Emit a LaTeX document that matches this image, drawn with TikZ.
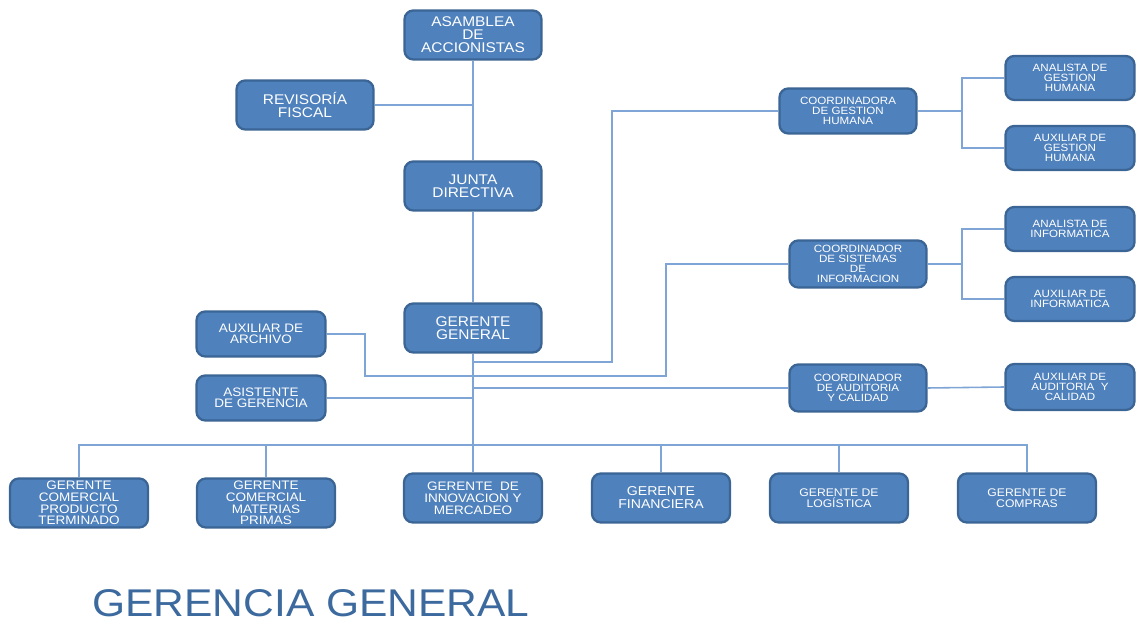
\documentclass[tikz,border=0pt]{standalone}
\usepackage{fontspec}
\setmainfont[FakeStretch=1.1]{Liberation Sans}
\usetikzlibrary{calc}
\definecolor{boxfill}{HTML}{4F81BD}
\definecolor{boxedge}{HTML}{3A6594}
\definecolor{linkblue}{HTML}{7FA5D6}
\definecolor{titleblue}{HTML}{3C6A9E}
\tikzset{
  orgbox/.style 2 args={draw=boxedge, line width=1.3pt, fill=boxfill,
    rounded corners=5pt, text=white, align=center, inner sep=1pt,
    minimum width=#1, minimum height=#2},
  big/.style={orgbox={2.74cm}{0.98cm}, font=\fontsize{8}{7.4}\selectfont},
  mid/.style={orgbox={2.58cm}{0.9cm}, font=\fontsize{7}{6.4}\selectfont},
  low/.style={orgbox={2.76cm}{0.98cm}, font=\fontsize{7}{6.7}\selectfont},
  coord/.style={orgbox={2.74cm}{0.9cm}, font=\fontsize{6}{5.7}\selectfont},
  side/.style={orgbox={2.58cm}{0.88cm}, font=\fontsize{6}{5.7}\selectfont},
  link/.style={draw=linkblue, line width=0.9pt},
}
\begin{document}
\begin{tikzpicture}[x=0.02cm, y=-0.02cm]
\useasboundingbox (0,0) rectangle (1137,624);

% top of the hierarchy
\node[big] (asamblea) at (473,35) {ASAMBLEA\\DE\\ACCIONISTAS};
\node[big] (revisoria) at (305,105) {REVISORÍA\\FISCAL};
\node[big] (junta) at (473,186) {JUNTA\\DIRECTIVA};
\node[big] (gerente) at (473,328) {GERENTE\\GENERAL};

% staff units beside the general manager
\node[mid] (archivo) at (261,334) {AUXILIAR DE\\ARCHIVO};
\node[mid] (asistente) at (261,398) {ASISTENTE\\DE GERENCIA};

% coordinators and their assistants
\node[coord] (cgh) at (848,111) {COORDINADORA\\DE GESTION\\HUMANA};
\node[side] (agh) at (1070,78) {ANALISTA DE\\GESTION\\HUMANA};
\node[side] (xgh) at (1070,148) {AUXILIAR DE\\GESTION\\HUMANA};

\node[coord, minimum height=0.94cm] (csi) at (858,264) {COORDINADOR\\DE SISTEMAS\\DE\\INFORMACION};
\node[side] (ain) at (1070,229) {ANALISTA DE\\INFORMATICA};
\node[side] (xin) at (1070,299) {AUXILIAR DE\\INFORMATICA};

\node[coord, minimum height=0.94cm] (cau) at (858,388) {COORDINADOR\\DE AUDITORIA\\Y CALIDAD};
\node[side, minimum height=0.92cm] (xau) at (1070,387) {AUXILIAR DE\\AUDITORIA\ \ Y\\CALIDAD};

% managers row
\node[low] (gcp) at (79,503) {GERENTE\\COMERCIAL\\PRODUCTO\\TERMINADO};
\node[low] (gcm) at (266,503) {GERENTE\\COMERCIAL\\MATERIAS\\PRIMAS};
\node[low] (gin) at (473,498) {GERENTE\ \ DE\\INNOVACION Y\\MERCADEO};
\node[low, font=\fontsize{7.3}{7.4}\selectfont] (gfi) at (661,498) {GERENTE\\FINANCIERA};
\node[low, font=\fontsize{6.3}{6.3}\selectfont] (glo) at (839,498) {GERENTE DE\\LOGÍSTICA};
\node[low, font=\fontsize{6.3}{6.3}\selectfont] (gco) at (1027,498) {GERENTE DE\\COMPRAS};

% junction points of the connectors
\coordinate (bus) at (473,445);
\coordinate (kar) at (365,376);
\coordinate (ksi) at (666,376);
\coordinate (kgh) at (612,362);
\coordinate (bgh) at (962,111);
\coordinate (bsi) at (962,264);

% main spine
\draw[link] (asamblea.south) -- (junta.north);
\draw[link] (revisoria.east) -- (revisoria.east -| asamblea.south);
\draw[link] (junta.south) -- (gerente.north);
\draw[link] (gerente.south) -- (gin.north);

% lateral branches from the spine
\draw[link] (gerente.south |- kgh) -- (kgh) |- (cgh.west);
\draw[link] (archivo.east) -| (kar) -- (ksi) |- (csi.west);
\draw[link] (gerente.south |- cau.west) -- (cau.west);
\draw[link] (asistente.east) -- (asistente.east -| gerente.south);
\draw[link] (cau.east) -- (xau.west);

% coordinator forks
\draw[link] (cgh.east) -- (bgh);
\draw[link] (agh.west) -| (bgh) |- (xgh.west);
\draw[link] (csi.east) -- (bsi);
\draw[link] (ain.west) -| (bsi) |- (xin.west);

% bus to the managers row
\draw[link] (gcp.north) |- (bus) -| (gco.north);
\draw[link] (gcm.north) -- (gcm.north |- bus);
\draw[link] (gfi.north) -- (gfi.north |- bus);
\draw[link] (glo.north) -- (glo.north |- bus);

% title
\node[anchor=base west, inner sep=0pt, text=titleblue,
      font=\fontsize{22}{24}\selectfont, xscale=1.0] (title) at (92,617) {GERENCIA GENERAL};
\end{tikzpicture}
\end{document}
